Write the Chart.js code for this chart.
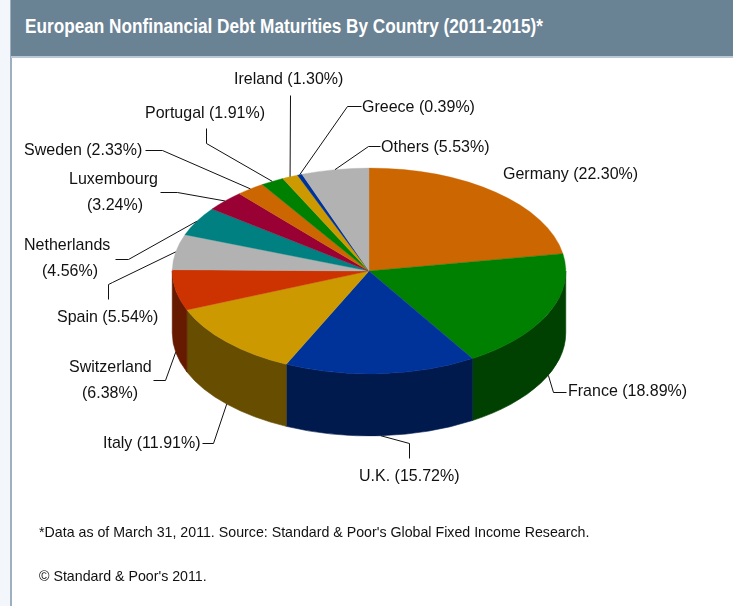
<!DOCTYPE html>
<html>
<head>
<meta charset="utf-8">
<style>
html,body{margin:0;padding:0;background:#fff;}
#page{position:relative;width:733px;height:606px;overflow:hidden;background:#fff;font-family:"Liberation Sans",Arial,sans-serif;}
#strip{position:absolute;left:0;top:0;width:10px;height:606px;background:#f3f6fa;border-right:2px solid #9db0c0;}
#band{position:absolute;left:11px;top:0;right:0;height:56px;background:#698294;border-bottom:2px solid #b9c8d4;}
#title{position:absolute;left:25px;top:15px;font-weight:bold;font-size:20px;color:#fff;white-space:nowrap;transform-origin:0 0;transform:scale(0.86,1);}
.note{position:absolute;left:39px;font-size:15px;color:#111;white-space:nowrap;transform-origin:0 0;transform:scale(0.947,1);}
canvas{position:absolute;left:0;top:0;}
</style>
</head>
<body>
<div id="page">
  <div id="strip"></div>
  <div id="band"></div>
  <div id="title">European Nonfinancial Debt Maturities By Country (2011-2015)*</div>
  <canvas id="c" width="733" height="606"></canvas>
  <div class="note" style="top:523px">*Data as of March 31, 2011. Source: Standard &amp; Poor's Global Fixed Income Research.</div>
  <div class="note" style="top:567px">© Standard &amp; Poor's 2011.</div>
</div>
<script src="https://cdn.jsdelivr.net/npm/chart.js@4"></script>
<script>
const countries = ["Germany","France","U.K.","Italy","Switzerland","Spain","Netherlands","Luxembourg","Sweden","Portugal","Ireland","Greece","Others"];
const shares = [22.30,18.89,15.72,11.91,6.38,5.54,4.56,3.24,2.33,1.91,1.30,0.39,5.53];
const topColors = ["#CC6600","#008000","#003399","#CC9900","#CC3300","#B2B2B2","#008080","#990033","#CC6600","#008000","#CC9900","#003399","#B2B2B2"];
const sideColors = ["#663300","#004000","#001A4D","#664D00","#661A00","#595959","#004040","#4D001A","#663300","#004000","#664D00","#001A4D","#595959"];

// Presentation only: label placement and leader elbows, in page pixels.
const labelLines = [
  {t:[[503,174]], leader:null},
  {t:[[568,391]], leader:[[553,392],[566,392]]},
  {t:[[359,476]], leader:[[409,443],[409,458]]},
  {t:[[103,443]], leader:[[213,443],[202,443]]},
  {t:[[69,367],[82,393]], leader:[[165,380],[153,380]]},
  {t:[[57,317]], leader:[[112,282],[108,284],[108,299]]},
  {t:[[24,245],[42,271]], leader:[[128,259],[115,259]]},
  {t:[[69,179],[87,205]], leader:[[177,192],[160,192]]},
  {t:[[24,150]], leader:[[162,150],[145,150]]},
  {t:[[145,113]], leader:[[206,143],[206,128]]},
  {t:[[234,79]], leader:[[290,95]]},
  {t:[[362,107]], leader:[[347,106],[361,106]]},
  {t:[[381,147]], leader:[[368,146],[380,146]]}
];
const squash = 0.523, depth = 62, labelStretch = 16/17;
const twoLine = new Set(["Switzerland","Netherlands","Luxembourg"]);

const pie3d = {
  id:'pie3d',
  beforeDatasetsDraw(chart){
    const ctx = chart.ctx, arcs = chart.getDatasetMeta(0).data;
    arcs.forEach((arc,i)=>{
      const p = arc.getProps(['x','y','startAngle','endAngle','outerRadius'],true);
      const s = Math.max(p.startAngle,0), e = Math.min(p.endAngle,Math.PI);
      if(e<=s) return;
      const ry = p.outerRadius*squash;
      ctx.beginPath();
      ctx.ellipse(p.x,p.y,p.outerRadius,ry,0,s,e,false);
      ctx.ellipse(p.x,p.y+depth,p.outerRadius,ry,0,e,s,true);
      ctx.closePath();
      ctx.fillStyle = sideColors[i];
      ctx.fill();
      ctx.strokeStyle = sideColors[i];
      ctx.lineWidth = 0.6;
      ctx.stroke();
    });
  },
  beforeDatasetDraw(chart,args){
    const ctx = chart.ctx, y = args.meta.data[0].y;
    ctx.save();
    ctx.translate(0,y);
    ctx.scale(1,squash);
    ctx.translate(0,-y);
  },
  afterDatasetDraw(chart){ chart.ctx.restore(); },
  afterDraw(chart){
    const ctx = chart.ctx, arcs = chart.getDatasetMeta(0).data;
    ctx.save();
    ctx.font = '17px "Liberation Sans", Arial, sans-serif';
    ctx.fillStyle = '#111';
    ctx.strokeStyle = '#111';
    ctx.lineWidth = 1;
    ctx.textBaseline = 'middle';
    ctx.textAlign = 'left';
    arcs.forEach((arc,i)=>{
      const p = arc.getProps(['x','y','startAngle','endAngle','outerRadius'],true);
      const mid = (p.startAngle+p.endAngle)/2;
      const L = labelLines[i];
      if(L.leader){
        const front = Math.sin(mid)>0;
        const ax = p.x+p.outerRadius*Math.cos(mid);
        const ay = p.y+p.outerRadius*squash*Math.sin(mid)+(front?depth:0);
        ctx.beginPath();
        ctx.moveTo(ax,ay);
        L.leader.forEach(q=>ctx.lineTo(q[0]+0.5,q[1]+0.5));
        ctx.stroke();
      }
      const pct = '('+shares[i].toFixed(2)+'%)';
      const rows = twoLine.has(countries[i]) ? [countries[i],pct] : [countries[i]+' '+pct];
      rows.forEach((r,k)=>{
        ctx.save();
        ctx.translate(L.t[k][0],L.t[k][1]);
        ctx.scale(labelStretch,1);
        ctx.fillText(r,0,0);
        ctx.restore();
      });
    });
    ctx.restore();
  }
};

new Chart(document.getElementById('c'),{
  type:'pie',
  data:{labels:countries,datasets:[{data:shares,backgroundColor:topColors,borderColor:topColors,borderWidth:0.5,clip:false}]},
  options:{
    responsive:false,
    animation:false,
    layout:{padding:{left:172,right:167,top:74,bottom:138}},
    plugins:{legend:{display:false},tooltip:{enabled:false},title:{display:false}}
  },
  plugins:[pie3d]
});
</script>
</body>
</html>
